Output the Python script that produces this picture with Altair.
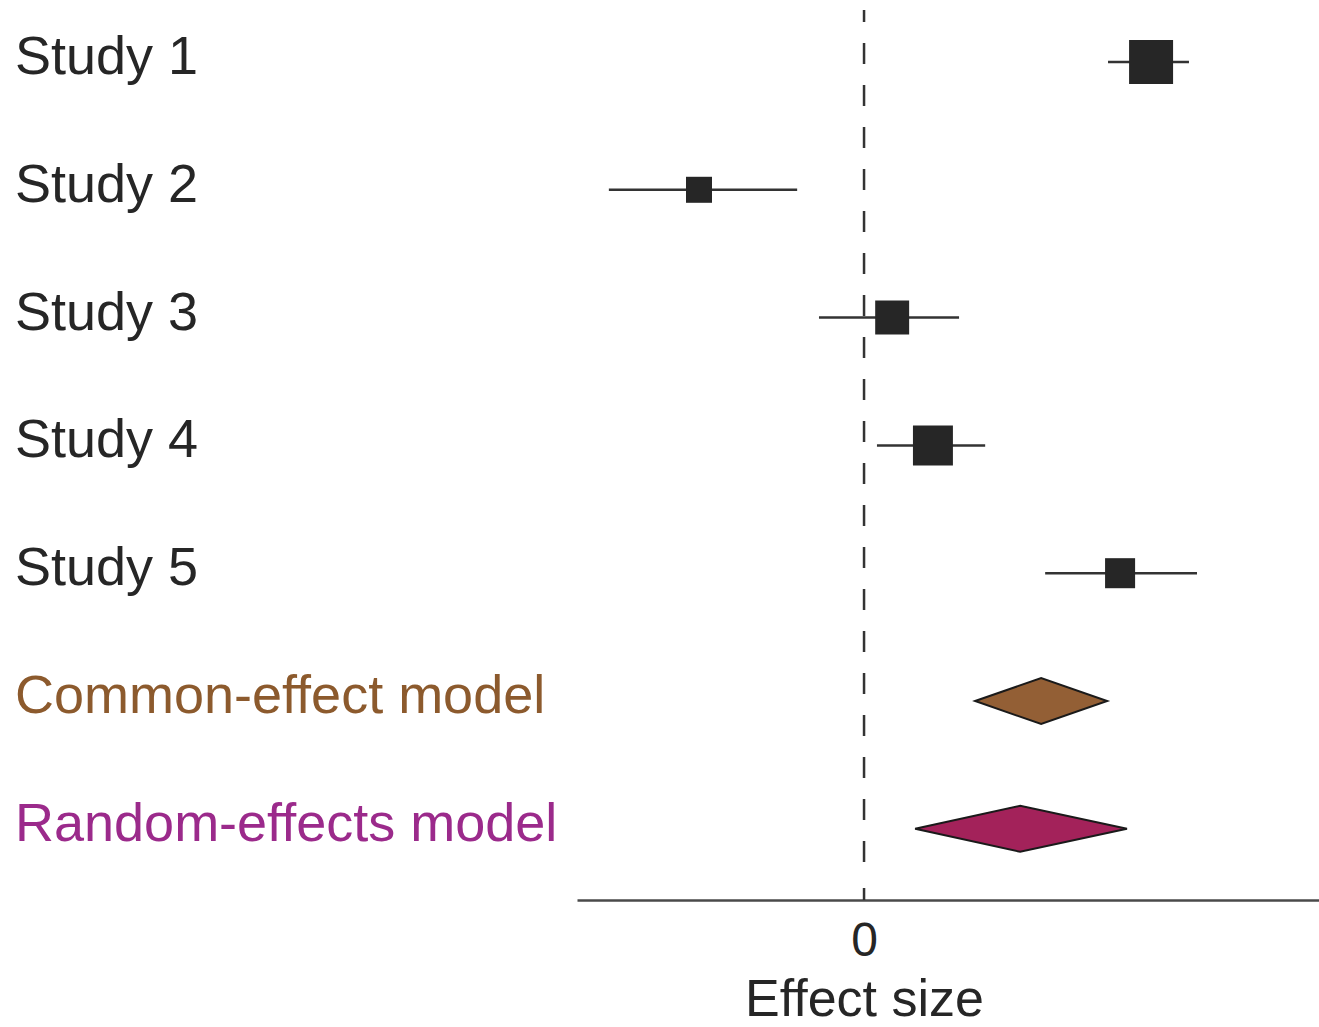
import altair as alt
import pandas as pd

# ---- data ----
labels = ["Study 1", "Study 2", "Study 3", "Study 4", "Study 5",
          "Common-effect model", "Random-effects model"]
estimates = [1.000, -0.575, 0.098, 0.240, 0.892, 0.617, 0.544]
ci_low = [0.850, -0.889, -0.157, 0.045, 0.631, 0.387, 0.178]
ci_high = [1.132, -0.233, 0.331, 0.422, 1.160, 0.847, 0.916]
weights = [30.9, 10.8, 18.4, 25.5, 14.4, None, None]
label_colors = ["#262626", "#262626", "#262626", "#262626", "#262626",
                "#8c5a2d", "#9b2a8b"]
diamond_colors = ["#935f35", "#a3225a"]
x_ticks = [0]

FONT = "Liberation Sans"
DIAMOND_H = 0.18

rows = list(range(len(labels)))
df = pd.DataFrame({"label": labels, "row": rows, "est": estimates,
                   "lo": ci_low, "hi": ci_high, "w": weights,
                   "lcolor": label_colors})
studies = df.iloc[:5]
models = df.iloc[5:]

poly = []
for (_, r), fc in zip(models.iterrows(), diamond_colors):
    poly.append({"label": r.label, "x": r.lo, "ya": r.row, "yb": r.row, "fc": fc})
    poly.append({"label": r.label, "x": r.est, "ya": r.row - DIAMOND_H, "yb": r.row + DIAMOND_H, "fc": fc})
    poly.append({"label": r.label, "x": r.hi, "ya": r.row, "yb": r.row, "fc": fc})
poly = pd.DataFrame(poly)

xscale = alt.Scale(domain=[-1.0, 1.585], nice=False, zero=False)
yscale = alt.Scale(domain=[-0.485, 6.557], nice=False, zero=False, reverse=True)

xaxis = alt.Axis(values=x_ticks, format="d", ticks=False, grid=False, domainColor="#4a4a4a",
                 domainWidth=2.5, labelFontSize=48, labelFont=FONT,
                 labelColor="#262626", labelPadding=17, title="Effect size",
                 titleFont=FONT, titleFontSize=52, titleFontWeight="normal",
                 titleColor="#262626", titlePadding=9, titleX=287, titleAlign="center",
                 titleAnchor="start")

zero_line = alt.Chart(pd.DataFrame({"z": x_ticks})).mark_rule(
    strokeDash=[21, 21], strokeDashOffset=9, strokeWidth=2.5, color="#333333"
).encode(x=alt.X("z:Q", scale=xscale, axis=xaxis), y=alt.value(10), y2=alt.value(880))

zero_tick = alt.Chart(pd.DataFrame({"z": x_ticks})).mark_rule(
    strokeWidth=2.5, color="#333333"
).encode(x=alt.X("z:Q", scale=xscale), y=alt.value(888), y2=alt.value(900))

ci = alt.Chart(studies).mark_rule(strokeWidth=2.5, color="#333333").encode(
    x=alt.X("lo:Q", scale=xscale), x2="hi:Q",
    y=alt.Y("row:Q", scale=yscale, axis=None))

squares = alt.Chart(studies).mark_square(opacity=1, color="#262626").encode(
    x=alt.X("est:Q", scale=xscale),
    y=alt.Y("row:Q", scale=yscale),
    size=alt.Size("w:Q", scale=alt.Scale(domain=[0, 30.9], range=[0, 1936]), legend=None))

diamonds = alt.Chart(poly).mark_area(stroke="#1a1a1a", strokeWidth=2, opacity=1).encode(
    x=alt.X("x:Q", scale=xscale),
    y=alt.Y("ya:Q", scale=yscale),
    y2="yb:Q",
    detail="label:N",
    fill=alt.Fill("fc:N", scale=None))

texts = alt.Chart(df).mark_text(align="left", baseline="middle", fontSize=54,
                                font=FONT, dy=-4).encode(
    x=alt.value(-562),
    y=alt.Y("row:Q", scale=yscale),
    text="label:N",
    color=alt.Color("lcolor:N", scale=None))

chart = alt.layer(zero_line, zero_tick, ci, squares, diamonds, texts).properties(
    width=742, height=900,
    autosize=alt.AutoSizeParams(type="none"),
    padding={"left": 577, "top": 0, "right": 0, "bottom": 127},
    background="white",
).configure_view(stroke=None)

chart.save("out.html", embed_options={"renderer": "svg", "actions": False})
